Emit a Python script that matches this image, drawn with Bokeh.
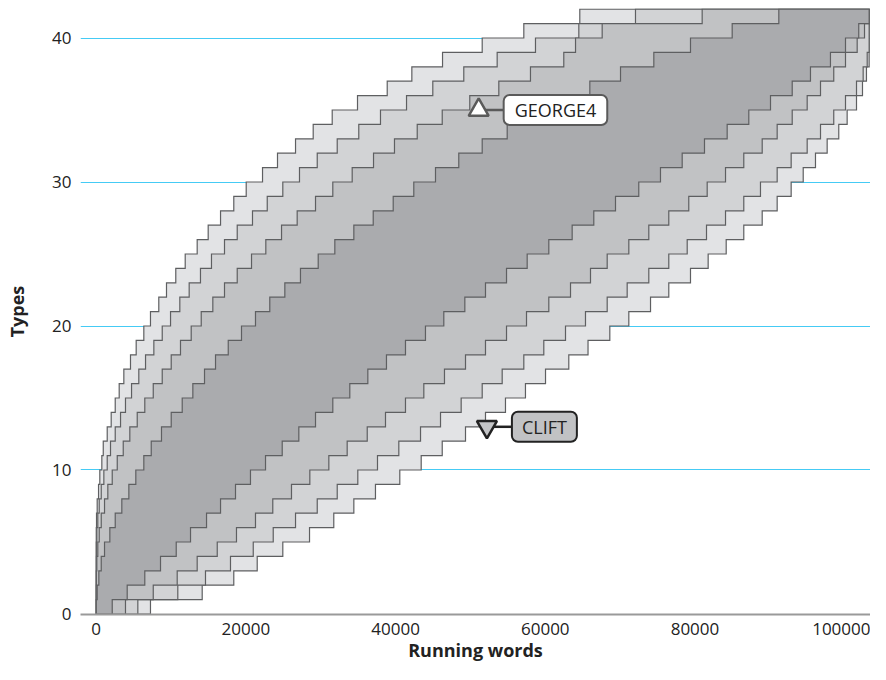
from bokeh.plotting import figure
from bokeh.models import Label, BasicTickFormatter, FixedTicker
from bokeh.embed import file_html
from bokeh.resources import INLINE

# ---------------- data ----------------
TOTAL_WORDS = 103270
MAX_TYPES = 42
X_TICKS = [0, 20000, 40000, 60000, 80000, 100000]
Y_TICKS = [0, 10, 20, 30, 40]
Y_GRID = [10, 20, 30, 40]

# running-word position at which each envelope boundary first reaches 1, 2, ..., 42 types
upper_1 = [1, 2, 3, 4, 5, 6, 40, 130, 310, 480,
           750, 940, 1470, 2000, 2540, 3070, 3690, 4580, 5340, 6360,
           7250, 8360, 9390, 10630, 11890, 13490, 14960, 16610, 18380, 20040,
           22220, 24220, 26630, 28990, 31530, 34910, 38880, 42170, 46270, 51570,
           57130, 64610]
upper_2 = [1, 2, 4, 6, 20, 80, 210, 400, 670, 1020,
           1470, 1910, 2540, 3250, 3910, 4720, 5690, 6590, 7700, 8820,
           9930, 11170, 12420, 13930, 15400, 17140, 18840, 20880, 22850, 24930,
           27160, 29530, 32200, 35080, 37980, 41460, 44970, 49110, 53570, 58690,
           64480, 72050]
upper_3 = [2, 5, 20, 80, 210, 400, 670, 1110, 1550, 2140,
           2810, 3610, 4490, 5480, 6490, 7620, 8820, 10020, 11260, 12690,
           14030, 15580, 17140, 18840, 20750, 22660, 24760, 26850, 29300, 31610,
           34200, 37050, 39850, 42890, 46230, 49910, 53790, 58020, 62470, 64040,
           67600, 80960]
upper_4 = [10, 130, 350, 670, 1110, 1820, 2540, 3420, 4360, 5290,
           6360, 7350, 8720, 10020, 11490, 12910, 14470, 15940, 17640, 19410,
           21280, 23190, 25200, 27290, 29660, 31880, 34420, 37010, 39680, 42430,
           45330, 48440, 51570, 54910, 58420, 62160, 65950, 70050, 74500, 79400,
           84970, 91200]
lower_4 = [2140, 4140, 6490, 8590, 10690, 12600, 14740, 16610, 18610, 20610,
           22620, 24850, 27070, 29300, 31610, 33880, 36290, 38780, 41320, 43990,
           46440, 49250, 52010, 54820, 57580, 60470, 63590, 66480, 69380, 72490,
           75390, 78290, 81270, 84300, 87190, 90090, 92990, 95430, 98100, 100110,
           101880, 103270]
lower_3 = [3910, 7620, 10820, 13490, 16170, 18740, 21280, 23590, 26090, 28540,
           31080, 33530, 36210, 38650, 41320, 43770, 46530, 49340, 52010, 54820,
           57490, 60470, 63370, 66040, 68270, 71160, 73830, 76500, 79170, 81630,
           84080, 86520, 88980, 90980, 92990, 94990, 96770, 98540, 100110, 101670,
           102650, 103270]
lower_2 = [5560, 10900, 14600, 17940, 20980, 23650, 26630, 29530, 32200, 34950,
           37580, 40430, 43330, 46000, 48760, 51570, 54240, 57130, 59800, 62700,
           65370, 68270, 70940, 73830, 76500, 78960, 81540, 84080, 86520, 88750,
           90980, 92850, 94990, 96770, 98540, 100110, 101580, 102470, 103010, 103270,
           103270, 103270]
lower_1 = [7250, 14160, 18380, 21510, 24930, 28500, 31740, 34420, 37310, 40560,
           43420, 46230, 49340, 52010, 54680, 57350, 60030, 63140, 65710, 68620,
           71160, 74060, 76500, 79400, 81760, 84170, 86520, 88980, 90980, 92850,
           94460, 96100, 97660, 99210, 100330, 101580, 102380, 102910, 103270, 103270,
           103270, 103270]

band_colors = ["#e2e3e5", "#d2d3d5", "#c1c2c4", "#aaabae"]

texts = ["GEORGE4", "CLIFT"]
text_words = [51100, 52200]
text_types = [35, 13]

# ---------------- helpers ----------------
def step_path(reach):
    xs, ys = [0], [0]
    for k, x in enumerate(reach, start=1):
        xs += [x, x]
        ys += [k - 1, k]
    xs.append(TOTAL_WORDS)
    ys.append(MAX_TYPES)
    return xs, ys

X_START, X_END = -2100, 103450
Y_START, Y_END = -0.035, 42.049
FIG_W, FIG_H = 870, 664
B_LEFT, B_RIGHT, B_TOP, B_BOTTOM = 80, 0, 8, 50
FRAME_W = FIG_W - B_LEFT - B_RIGHT
WORDS_PER_PX = (X_END - X_START) / FRAME_W

FONT = "Open Sans"

p = figure(width=FIG_W, height=FIG_H, x_range=(X_START, X_END), y_range=(Y_START, Y_END),
           output_backend="svg", toolbar_location=None,
           min_border_left=B_LEFT, min_border_right=B_RIGHT,
           min_border_top=B_TOP, min_border_bottom=B_BOTTOM)
p.outline_line_color = None
p.background_fill_color = "white"
p.border_fill_color = "white"

p.xgrid.grid_line_color = None
grid = p.ygrid[0]
grid.ticker = FixedTicker(ticks=Y_GRID)
grid.grid_line_color = "#45cbf5"
grid.grid_line_alpha = 1.0
grid.grid_line_width = 1.2

bands = [(upper_1, lower_1), (upper_2, lower_2), (upper_3, lower_3), (upper_4, lower_4)]
for (up, lo), color in zip(bands, band_colors):
    ux, uy = step_path(up)
    lx, ly = step_path(lo)
    p.patch(ux + lx[::-1], uy + ly[::-1], fill_color=color, line_color="#5e5f61",
            line_width=1.2, line_join="miter")

# annotation markers + connectors + boxed labels
gap_px = 25
styles = [
    dict(marker="triangle", fill="white", line="#5a5a5a", box_fill="white", pad=11),
    dict(marker="inverted_triangle", fill="#c4c5c7", line="#222222", box_fill="#c1c2c4", pad=10),
]
for t, wx, ty, st in zip(texts, text_words, text_types, styles):
    p.segment(x0=[wx], y0=[ty], x1=[wx + gap_px * WORDS_PER_PX], y1=[ty],
              line_color=st["line"], line_width=2.5)
    p.scatter(x=[wx], y=[ty], marker=st["marker"], size=20, fill_color=st["fill"],
              line_color=st["line"], line_width=2.5)
    p.add_layout(Label(x=wx, y=ty, x_offset=gap_px, text=t,
                       text_align="left", text_baseline="middle",
                       text_font=FONT, text_font_size="18px", text_color="#222222",
                       background_fill_color=st["box_fill"],
                       border_line_color=st["line"], border_line_width=2,
                       padding=dict(x=st["pad"], y=3), border_radius=6))

# axes
p.xaxis.ticker = FixedTicker(ticks=X_TICKS)
p.xaxis.formatter = BasicTickFormatter(use_scientific=False)
p.yaxis.ticker = FixedTicker(ticks=Y_TICKS)
for ax in (p.xaxis[0], p.yaxis[0]):
    ax.major_tick_line_color = None
    ax.minor_tick_line_color = None
    ax.major_tick_out = 0
    ax.minor_tick_out = 0
    ax.major_label_text_font = FONT
    ax.major_label_text_font_size = "17px"
    ax.major_label_text_color = "#222222"
    ax.axis_label_text_font = FONT
    ax.axis_label_text_font_size = "18px"
    ax.axis_label_text_font_style = "bold"
    ax.axis_label_text_color = "#222222"
p.xaxis.axis_label = "Running words"
p.yaxis.axis_label = "Types"
p.xaxis.axis_line_color = "#9a9a9a"
p.xaxis.axis_line_width = 2
p.xaxis.major_label_standoff = 8
p.xaxis.axis_label_standoff = 0
p.yaxis.axis_line_color = None
p.yaxis.major_label_text_align = "center"
p.yaxis.major_label_standoff = 9
p.yaxis.axis_label_standoff = 20

open("out.html", "w").write(file_html(p, INLINE))
